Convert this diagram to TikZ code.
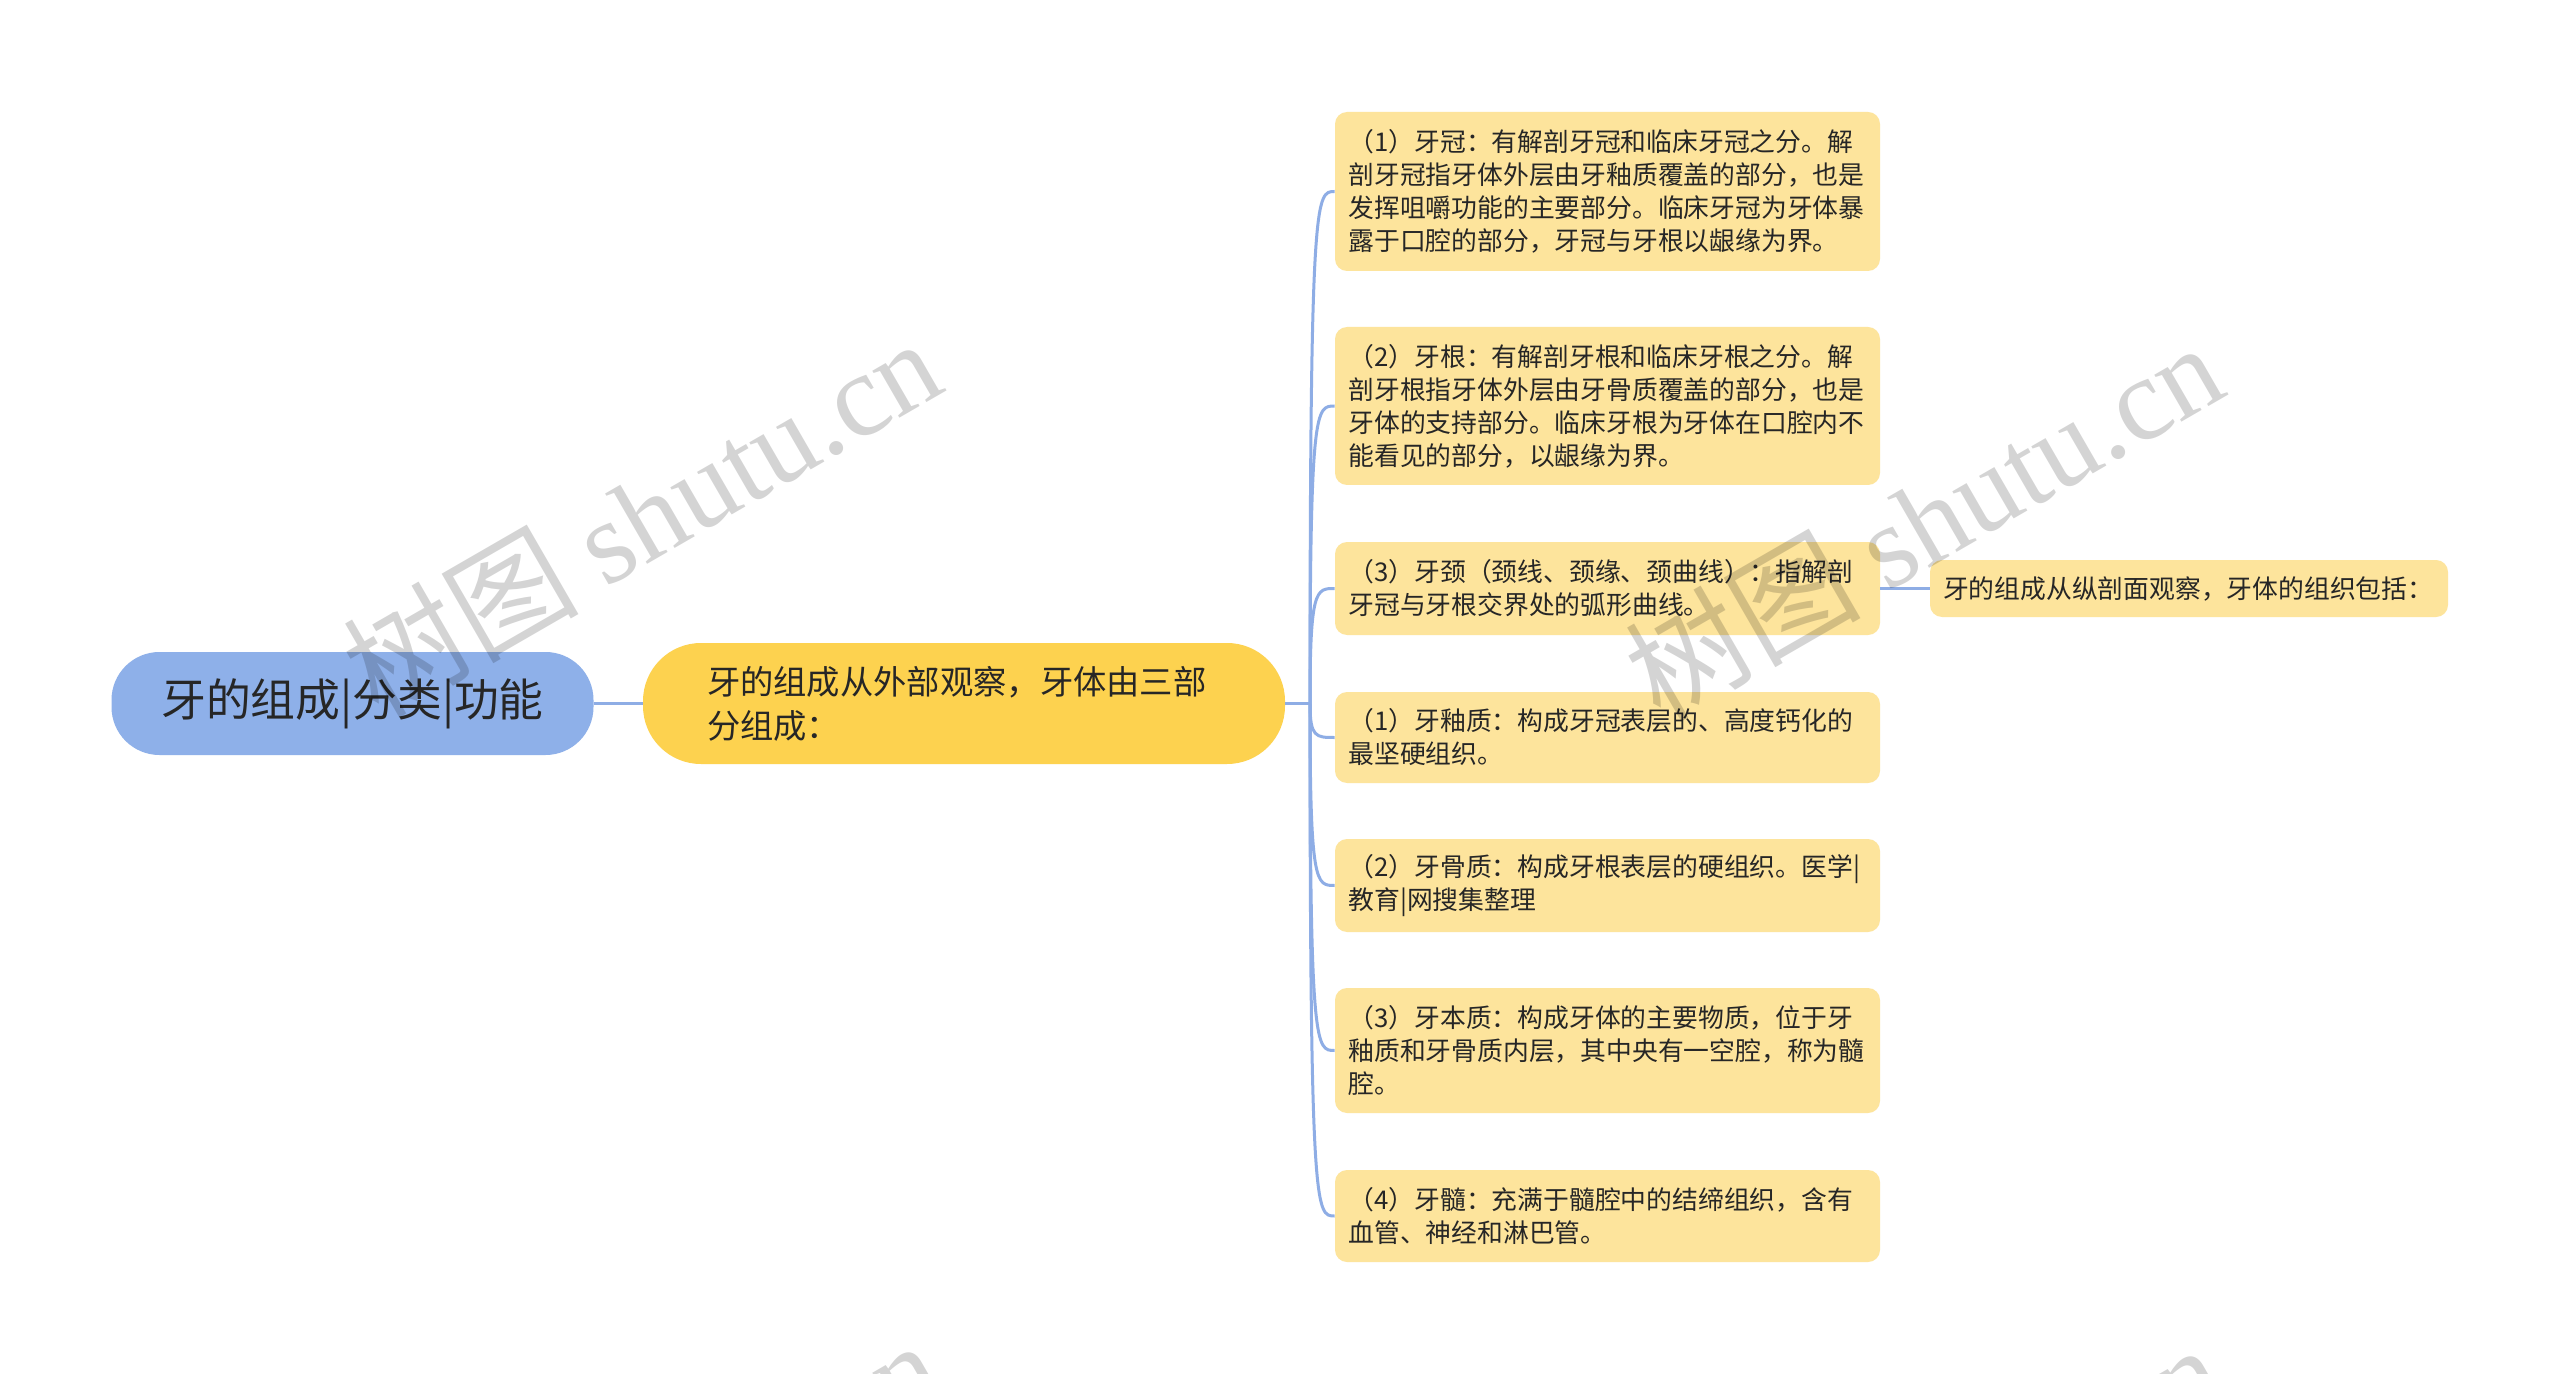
\documentclass[tikz,border=0pt]{standalone}
\usepackage{fontspec}
\setmainfont{Noto Sans CJK SC}
\newfontfamily\cjk{Noto Sans CJK SC}
\newfontfamily\wmserif{Liberation Serif}
\definecolor{rootblue}{HTML}{8EB0E9}
\definecolor{lvone}{HTML}{FDD24F}
\definecolor{leafy}{HTML}{FDE49C}
\definecolor{connblue}{HTML}{8EADE5}
\definecolor{txt}{HTML}{262626}
\tikzset{
  conn/.style={draw=connblue, line width=1.5pt},
  leafbox/.style={fill=leafy, rounded corners=6pt, minimum width=272.5pt,
    text width=259pt, inner xsep=6.75pt, inner ysep=0pt, align=left,
    font=\cjk\fontsize{12.9}{16.5}\selectfont, text=txt},
  rootbox/.style={fill=rootblue, rounded corners=24pt, minimum width=241pt,
    minimum height=51.5pt, inner sep=0pt, font=\cjk\fontsize{22.4}{26}\selectfont, text=txt},
  lonebox/.style={fill=lvone, rounded corners=29pt, minimum width=321pt,
    minimum height=60.5pt, text width=257pt, inner xsep=32pt, inner ysep=0pt,
    align=left, font=\cjk\fontsize{16.65}{22}\selectfont, text=txt},
  wmark/.style={rotate=30, text=black, text opacity=0.17, inner sep=0pt,
    font=\fontsize{59}{62}\selectfont},
}
\begin{document}
\begin{tikzpicture}[x=0.5pt, y=-0.5pt]
\useasboundingbox (0,0) rectangle (2560,1374);
\fill[white] (0,0) rectangle (2560,1374);

\node[rootbox] (root) at (352.5,703.5) {\raisebox{-2pt}{牙的组成|分类|功能}};
\node[lonebox] (lone) at (964,703.5) {牙的组成从外部观察，牙体由三部\\分组成：};

\node[leafbox, minimum height=79.5pt] (l1) at (1607.5,191.5) {（1）牙冠：有解剖牙冠和临床牙冠之分。解\\剖牙冠指牙体外层由牙釉质覆盖的部分，也是\\发挥咀嚼功能的主要部分。临床牙冠为牙体暴\\露于口腔的部分，牙冠与牙根以龈缘为界。};
\node[leafbox, minimum height=79pt] (l2) at (1607.5,406) {（2）牙根：有解剖牙根和临床牙根之分。解\\剖牙根指牙体外层由牙骨质覆盖的部分，也是\\牙体的支持部分。临床牙根为牙体在口腔内不\\能看见的部分，以龈缘为界。};
\node[leafbox, minimum height=46.5pt] (l3) at (1607.5,588.5) {（3）牙颈（颈线、颈缘、颈曲线）：指解剖\\牙冠与牙根交界处的弧形曲线。};
\node[leafbox, minimum height=45.5pt] (l4) at (1607.5,737.5) {（1）牙釉质：构成牙冠表层的、高度钙化的\\最坚硬组织。};
\node[leafbox, minimum height=46.5pt] (l5) at (1607.5,885.5) {（2）牙骨质：构成牙根表层的硬组织。医学|\\教育|网搜集整理};
\node[leafbox, minimum height=62.5pt] (l6) at (1607.5,1050.5) {（3）牙本质：构成牙体的主要物质，位于牙\\釉质和牙骨质内层，其中央有一空腔，称为髓\\腔。};
\node[leafbox, minimum height=46pt] (l7) at (1607.5,1216) {（4）牙髓：充满于髓腔中的结缔组织，含有\\血管、神经和淋巴管。};

\node[leafbox, minimum width=259pt, text width=246pt, inner xsep=6.5pt, minimum height=28.5pt] (rt) at (2189,588.5) {牙的组成从纵剖面观察，牙体的组织包括：};

\coordinate (j) at (1310,703.5);
\draw[conn] (root.east) -- (lone.west);
\draw[conn] (lone.east) -- (j);
\foreach \n/\y in {l1/191.5, l2/406, l3/588.5, l4/737.5, l5/885.5, l6/1050.5, l7/1216}{
  \draw[conn] (j) .. controls (1310,\y) and (1316,\y) .. (\n.west);
}
\draw[conn] (l3.east) -- (rt.west);

\begin{scope}
\clip (0,0) rectangle (2560,1374);
\node[wmark] (wma) at (641,516) {{\cjk 树图} {\wmserif shutu.cn}};
\node[wmark] (wmb) at (1923,520) {{\cjk 树图} {\wmserif shutu.cn}};
\node[wmark] (wmc) at (641,1518) {{\cjk 树图} {\wmserif shutu.cn}};
\node[wmark] (wmd) at (1923,1522) {{\cjk 树图} {\wmserif shutu.cn}};
\end{scope}
\end{tikzpicture}
\end{document}
